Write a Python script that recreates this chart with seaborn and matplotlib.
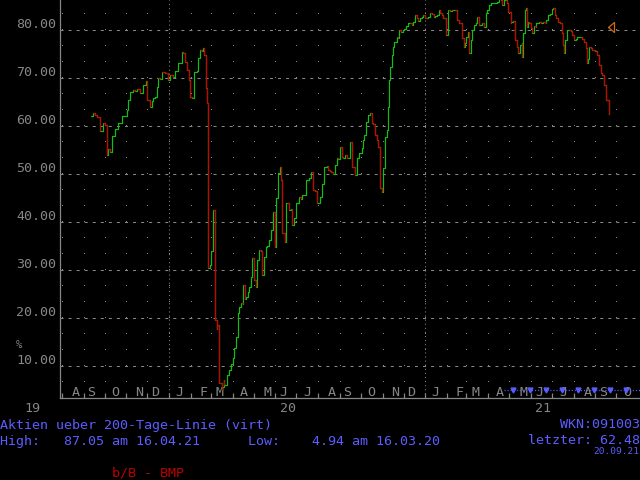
import matplotlib
matplotlib.use("Agg")
import matplotlib.pyplot as plt
import matplotlib.dates as mdates
import numpy as np
import pandas as pd
import seaborn as sns

# ---------------- data ----------------
dates = [
    "2019-09-11", "2019-09-14", "2019-09-17", "2019-09-20", "2019-09-24", "2019-09-28",
    "2019-10-01", "2019-10-04", "2019-10-05", "2019-10-08", "2019-10-11", "2019-10-16",
    "2019-10-20", "2019-10-26", "2019-10-30", "2019-11-02", "2019-11-03", "2019-11-06",
    "2019-11-10", "2019-11-13", "2019-11-16", "2019-11-20", "2019-11-24", "2019-11-29",
    "2019-11-30", "2019-12-01", "2019-12-04", "2019-12-07", "2019-12-09", "2019-12-12",
    "2019-12-14", "2019-12-16", "2019-12-19", "2019-12-22", "2019-12-26", "2019-12-30",
    "2020-01-02", "2020-01-07", "2020-01-10", "2020-01-13", "2020-01-17", "2020-01-20",
    "2020-01-21", "2020-01-24", "2020-01-27", "2020-01-29", "2020-01-31", "2020-02-03",
    "2020-02-05", "2020-02-06", "2020-02-10", "2020-02-11", "2020-02-14", "2020-02-17",
    "2020-02-18", "2020-02-20", "2020-02-22", "2020-02-24", "2020-02-25", "2020-02-26",
    "2020-02-29", "2020-03-01", "2020-03-03", "2020-03-04", "2020-03-07", "2020-03-09",
    "2020-03-10", "2020-03-12", "2020-03-16", "2020-03-17", "2020-03-19", "2020-03-20",
    "2020-03-23", "2020-03-24", "2020-03-27", "2020-03-30", "2020-04-01", "2020-04-03",
    "2020-04-06", "2020-04-08", "2020-04-10", "2020-04-13", "2020-04-15", "2020-04-16",
    "2020-04-19", "2020-04-20", "2020-04-22", "2020-04-24", "2020-04-27", "2020-04-29",
    "2020-05-02", "2020-05-04", "2020-05-06", "2020-05-09", "2020-05-12", "2020-05-13",
    "2020-05-16", "2020-05-19", "2020-05-20", "2020-05-23", "2020-05-26", "2020-05-28",
    "2020-05-31", "2020-06-01", "2020-06-02", "2020-06-04", "2020-06-07", "2020-06-09",
    "2020-06-11", "2020-06-14", "2020-06-16", "2020-06-18", "2020-06-21", "2020-06-23",
    "2020-06-25", "2020-06-28", "2020-07-01", "2020-07-05", "2020-07-08", "2020-07-09",
    "2020-07-14", "2020-07-15", "2020-07-19", "2020-07-22", "2020-07-24", "2020-07-27",
    "2020-07-30", "2020-07-31", "2020-08-03", "2020-08-06", "2020-08-07", "2020-08-10",
    "2020-08-13", "2020-08-15", "2020-08-18", "2020-08-20", "2020-08-22", "2020-08-25",
    "2020-08-28", "2020-08-29", "2020-09-01", "2020-09-04", "2020-09-05", "2020-09-08",
    "2020-09-11", "2020-09-12", "2020-09-15", "2020-09-18", "2020-09-19", "2020-09-22",
    "2020-09-25", "2020-09-26", "2020-09-29", "2020-10-02", "2020-10-04", "2020-10-06",
    "2020-10-09", "2020-10-11", "2020-10-14", "2020-10-17", "2020-10-18", "2020-10-21",
    "2020-10-24", "2020-10-25", "2020-10-28", "2020-10-31", "2020-11-02", "2020-11-04",
    "2020-11-07", "2020-11-09", "2020-11-10", "2020-11-11", "2020-11-14", "2020-11-16",
    "2020-11-18", "2020-11-21", "2020-11-23", "2020-11-25", "2020-11-28", "2020-11-30",
    "2020-12-02", "2020-12-05", "2020-12-07", "2020-12-10", "2020-12-13", "2020-12-14",
    "2020-12-17", "2020-12-20", "2020-12-21", "2020-12-24", "2020-12-27", "2020-12-29",
    "2021-01-01", "2021-01-04", "2021-01-05", "2021-01-08", "2021-01-11", "2021-01-13",
    "2021-01-15", "2021-01-18", "2021-01-20", "2021-01-22", "2021-01-25", "2021-01-27",
    "2021-01-30", "2021-02-02", "2021-02-03", "2021-02-06", "2021-02-08", "2021-02-10",
    "2021-02-12", "2021-02-15", "2021-02-16", "2021-02-19", "2021-02-22", "2021-02-23",
    "2021-02-26", "2021-02-27", "2021-02-28", "2021-03-03", "2021-03-04", "2021-03-07",
    "2021-03-09", "2021-03-12", "2021-03-15", "2021-03-16", "2021-03-19", "2021-03-22",
    "2021-03-23", "2021-03-26", "2021-03-29", "2021-03-31", "2021-04-02", "2021-04-05",
    "2021-04-07", "2021-04-09", "2021-04-12", "2021-04-14", "2021-04-16", "2021-04-19",
    "2021-04-21", "2021-04-23", "2021-04-26", "2021-04-28", "2021-04-30", "2021-05-03",
    "2021-05-04", "2021-05-07", "2021-05-10", "2021-05-12", "2021-05-14", "2021-05-17",
    "2021-05-19", "2021-05-20", "2021-05-21", "2021-05-24", "2021-05-25", "2021-05-26",
    "2021-05-28", "2021-05-29", "2021-06-01", "2021-06-02", "2021-06-05", "2021-06-08",
    "2021-06-09", "2021-06-12", "2021-06-15", "2021-06-16", "2021-06-19", "2021-06-22",
    "2021-06-23", "2021-06-26", "2021-06-29", "2021-07-01", "2021-07-03", "2021-07-06",
    "2021-07-07", "2021-07-10", "2021-07-13", "2021-07-15", "2021-07-17", "2021-07-19",
    "2021-07-20", "2021-07-22", "2021-07-25", "2021-07-28", "2021-07-30", "2021-08-02",
    "2021-08-05", "2021-08-06", "2021-08-09", "2021-08-12", "2021-08-13", "2021-08-16",
    "2021-08-19", "2021-08-20", "2021-08-22", "2021-08-23", "2021-08-26", "2021-08-28",
    "2021-08-31", "2021-09-02", "2021-09-04", "2021-09-07", "2021-09-09", "2021-09-11",
    "2021-09-14", "2021-09-16", "2021-09-17", "2021-09-20",
]
values = [
    62.0, 62.7, 62.3, 61.9, 59.0, 60.6,
    60.2, 54.0, 55.2, 54.5, 58.0, 59.4,
    60.6, 62.0, 62.0, 63.3, 65.4, 67.0,
    67.6, 67.2, 67.8, 66.8, 68.6, 69.3,
    68.2, 65.4, 64.0, 65.2, 65.8, 66.0,
    68.1, 70.0, 69.8, 71.3, 71.0, 69.6,
    70.6, 70.2, 71.4, 73.1, 73.2, 75.4,
    75.2, 73.3, 71.7, 69.6, 66.0, 65.8,
    69.6, 71.3, 71.5, 74.2, 75.8, 75.6,
    76.2, 74.8, 67.9, 64.8, 51.5, 30.4,
    31.0, 34.0, 40.4, 42.5, 19.5, 17.8,
    18.5, 6.4, 4.94, 5.6, 7.1, 6.0,
    6.4, 8.1, 9.2, 10.5, 11.6, 13.8,
    16.0, 21.0, 22.3, 23.1, 23.0, 26.9,
    24.0, 24.4, 25.4, 26.5, 28.5, 32.5,
    27.9, 26.5, 32.0, 34.2, 34.0, 29.0,
    32.7, 34.8, 35.0, 36.3, 38.3, 42.0,
    41.5, 34.8, 45.0, 50.2, 51.5, 48.8,
    37.7, 35.8, 44.0, 44.0, 42.5, 42.8,
    39.4, 40.8, 44.0, 45.2, 44.8, 45.6,
    46.3, 48.8, 49.2, 50.4, 46.7, 46.5,
    46.0, 44.0, 45.2, 47.0, 48.0, 51.5,
    51.7, 50.8, 50.6, 50.4, 50.0, 51.9,
    53.3, 53.2, 55.6, 53.5, 53.3, 54.0,
    53.4, 53.3, 56.7, 55.0, 51.5, 49.8,
    50.6, 53.3, 54.4, 55.4, 57.0, 58.1,
    60.8, 62.3, 62.7, 60.6, 60.4, 58.1,
    57.0, 55.6, 47.0, 46.3, 51.2, 57.7,
    59.2, 64.0, 69.6, 72.3, 74.8, 76.5,
    77.5, 78.5, 78.3, 80.0, 79.6, 80.0,
    80.2, 80.8, 81.5, 81.5, 81.0, 81.7,
    83.1, 82.5, 81.8, 82.5, 82.7, 83.1,
    82.5, 82.4, 82.7, 83.5, 83.3, 82.8,
    83.0, 83.1, 84.2, 83.6, 83.1, 82.5,
    79.0, 82.0, 84.2, 83.9, 84.2, 84.1,
    84.2, 84.0, 82.0, 81.5, 80.0, 78.3,
    76.5, 77.2, 78.5, 79.6, 75.2, 77.9,
    80.0, 81.0, 81.5, 82.7, 81.0, 81.0,
    81.5, 80.6, 83.5, 84.2, 85.2, 85.6,
    85.6, 85.6, 85.6, 85.8, 87.05, 86.2,
    85.2, 86.2, 86.3, 85.6, 83.8, 81.5,
    81.7, 81.9, 78.0, 76.5, 75.2, 76.9,
    77.2, 74.4, 79.4, 84.2, 84.6, 80.6,
    81.6, 81.5, 80.4, 79.4, 80.8, 80.6,
    81.5, 81.7, 81.5, 81.5, 81.6, 81.5,
    82.0, 83.1, 83.3, 84.4, 84.6, 83.1,
    82.5, 81.7, 81.5, 79.4, 76.9, 75.2,
    77.9, 80.0, 80.0, 79.7, 79.0, 77.9,
    78.2, 78.5, 78.5, 78.5, 78.2, 77.5,
    76.2, 73.1, 74.0, 76.5, 76.2, 75.8,
    75.6, 75.6, 74.8, 72.7, 71.0, 70.6,
    68.5, 68.1, 65.4, 62.48,
]

y_levels = [10, 20, 30, 40, 50, 60, 70, 80]
month_letters = list("ASONDJFMAMJJASONDJFMAMJJASO")
year_labels = ["19", "20", "21"]
year_label_dates = ["2019-06-19", "2020-06-19", "2021-06-19"]
year_lines = ["2020-01-01", "2021-01-01"]

signal_start = "2021-04-23"
signal_dates = ["2021-05-06", "2021-05-31", "2021-06-23", "2021-07-15",
                "2021-08-07", "2021-08-30", "2021-09-22", "2021-10-15"]
signal_level = 5.0
marker_date = "2021-09-24"
marker_value = 80.6

title_text = "Aktien ueber 200-Tage-Linie (virt)"
stats_text = "High:   87.05 am 16.04.21      Low:    4.94 am 16.03.20"
wkn_text = "WKN:091003"
last_text = "letzter: 62.48"
date_text = "20.09.21"
source_text = "b/B - BMP"
unit_text = "%"

# ---------------- style ----------------
GRAY = "#868686"
GREEN = "#10c010"
RED = "#d00000"
BLUE = "#5c5cff"
DARKRED = "#c00000"
ORANGE = "#d06a10"

sns.set_style("dark", {"axes.facecolor": "black", "figure.facecolor": "black"})
plt.rcParams["font.family"] = ["DejaVu Sans Mono", "DejaVu Sans"]
plt.rcParams["lines.scale_dashes"] = False

fig = plt.figure(figsize=(6.4, 4.8), dpi=100, facecolor="black")
ax = fig.add_axes([60 / 640, 82 / 480, 580 / 640, 398 / 480])
ax.set_facecolor("black")

df = pd.DataFrame({"date": pd.to_datetime(dates), "value": values})

# base step line (green) via seaborn
sns.lineplot(data=df, x="date", y="value", drawstyle="steps-post", color=GREEN,
             lw=0.85, ax=ax, legend=False, estimator=None, zorder=5)

# red segments for falling steps
d = df["date"].to_numpy()
v = df["value"].to_numpy()
down = np.where(v[1:] < v[:-1])[0] + 1
ax.vlines(d[down], v[down], v[down - 1], colors=RED, lw=0.85, zorder=6)
ax.hlines(v[down - 1], d[down - 1], d[down], colors=RED, lw=0.85, zorder=6)

x0 = pd.Timestamp("2019-07-29")
x1 = pd.Timestamp("2021-11-04")
ax.set_xlim(x0, x1)
ax.set_ylim(10 / 3, 86.25)
ax.set_xlabel("")
ax.set_ylabel("")
ax.set_xticks([])
ax.set_yticks([])
ax.grid(False)

for s in ["top", "right"]:
    ax.spines[s].set_visible(False)
for s in ["left", "bottom"]:
    ax.spines[s].set_visible(True)
    ax.spines[s].set_color(GRAY)
    ax.spines[s].set_linewidth(0.9)

# dashed horizontal grid at 10-unit levels
for lv in y_levels:
    ax.axhline(lv, color=GRAY, lw=0.75, linestyle=(0, (2.2, 3.6)), zorder=1)

# dotted grid points at month starts
month_starts = pd.date_range("2019-08-01", "2021-10-01", freq="MS")
dot_levels = np.arange(1, 26) * 10 / 3
mx, my = np.meshgrid(mdates.date2num(month_starts), dot_levels)
ax.plot(mx.ravel(), my.ravel(), ",", color=GRAY, zorder=1)

# year separator lines (dotted)
for yl in year_lines:
    ax.axvline(pd.Timestamp(yl), color=GRAY, lw=0.75, linestyle=(0, (0.75, 2.2)), zorder=1)

# month tick marks on the bottom
ax.vlines(month_starts, 0, 5 / 398, transform=ax.get_xaxis_transform(),
          colors=GRAY, lw=0.9, zorder=2)

# month letters (snapped to an 8-px character grid like the original)
mids = month_starts + pd.Timedelta(days=15)
for letter, mid in zip(month_letters, mids):
    px = ax.transData.transform((mdates.date2num(mid), 0))[0]
    px = np.round((px - 3.5) / 8) * 8 + 3.5
    ax.annotate(letter, xy=(px, 83.5), xycoords="figure pixels", ha="center",
                va="baseline", color=GRAY, fontsize=9.6, annotation_clip=False)

# y labels
for lv in y_levels:
    ax.annotate(f"{lv:.2f}", xy=(56, lv), xycoords=("figure pixels", "data"),
                xytext=(0, 2), textcoords="offset pixels", ha="right",
                va="baseline", color=GRAY, fontsize=9.6, annotation_clip=False)

ax.annotate(unit_text, xy=(19.5, 132), xycoords="figure pixels", ha="center",
            va="baseline", color=GRAY, fontsize=7.5)

# year labels
for lab, yd in zip(year_labels, year_label_dates):
    ax.annotate(lab, xy=(pd.Timestamp(yd), 67.5), xycoords=("data", "figure pixels"),
                ha="center", va="baseline", color=GRAY, fontsize=9.6,
                annotation_clip=False)

# orange reference marker
tri = [(-0.6, 0.0), (0.6, -1.0), (0.6, 1.0), (-0.6, 0.0)]
ax.plot([pd.Timestamp(marker_date)], [marker_value], marker=tri, ms=7.2,
        mfc="none", mec=ORANGE, mew=0.9, ls="none", clip_on=False, zorder=7)

# blue signal line with triangles
ax.hlines(signal_level, pd.Timestamp(signal_start), x1, colors=BLUE, lw=0.9,
          linestyles=(0, (0.8, 1.4)), zorder=4)
ax.plot(pd.to_datetime(signal_dates), [signal_level] * len(signal_dates), "v",
        ms=3.5, color=BLUE, ls="none", zorder=4)

# footer texts
ax.annotate(title_text, xy=(0, 51.5), xycoords="figure pixels", ha="left",
            va="baseline", color=BLUE, fontsize=9.6)
ax.annotate(wkn_text, xy=(640, 51.5), xycoords="figure pixels", ha="right",
            va="baseline", color=BLUE, fontsize=9.6)
ax.annotate(stats_text, xy=(0, 35), xycoords="figure pixels", ha="left",
            va="baseline", color=BLUE, fontsize=9.6)
ax.annotate(last_text, xy=(640, 36), xycoords="figure pixels", ha="right",
            va="baseline", color=BLUE, fontsize=9.6)
ax.annotate(date_text, xy=(639, 26.5), xycoords="figure pixels", ha="right",
            va="baseline", color=BLUE, fontsize=6.8)
ax.annotate(source_text, xy=(112, 3), xycoords="figure pixels", ha="left",
            va="baseline", color=DARKRED, fontsize=9.6)

fig.savefig("out.png", dpi=100, facecolor="black")
